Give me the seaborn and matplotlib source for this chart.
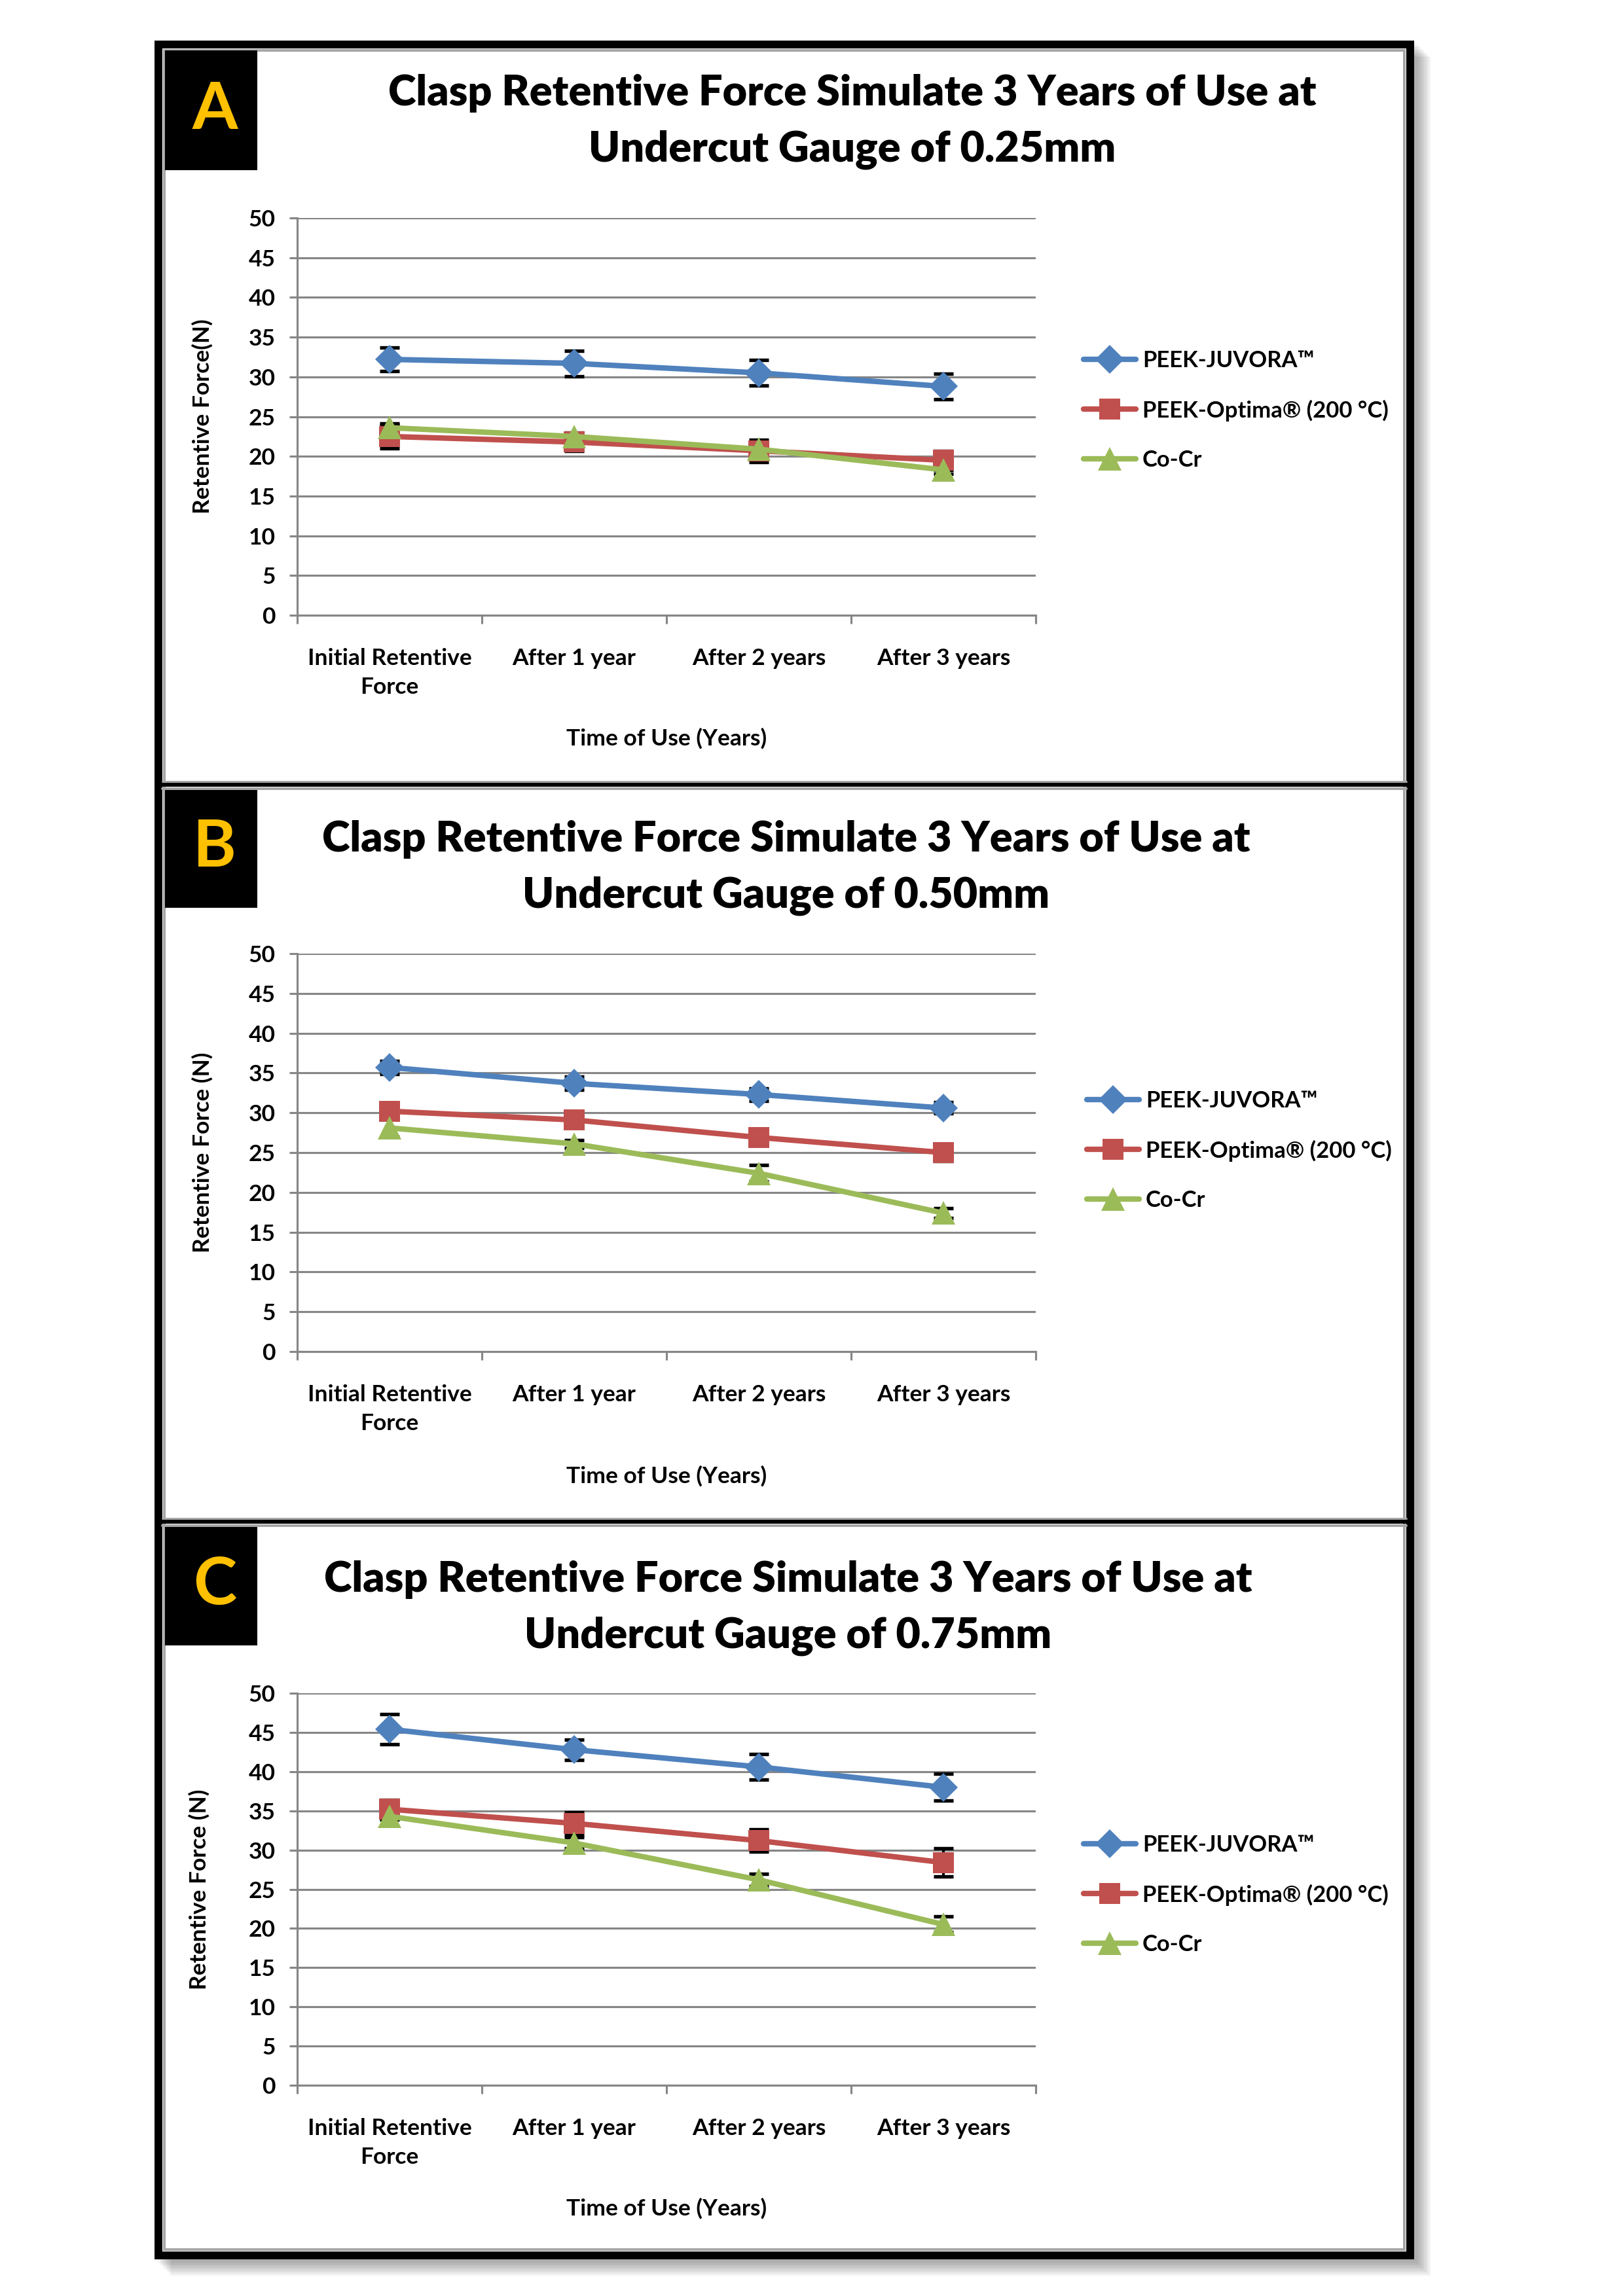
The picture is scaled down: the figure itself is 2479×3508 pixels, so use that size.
import numpy as np
import pandas as pd
import matplotlib
matplotlib.use("Agg")
import matplotlib.pyplot as plt
from matplotlib.patches import Rectangle
from matplotlib.lines import Line2D
from matplotlib.ticker import FixedLocator
import seaborn as sns

# Page size (pixels at 300 dpi)
W, H = 2479, 3508
DPI = 300

# Data
categories = ["Initial Retentive\nForce", "After 1 year", "After 2 years", "After 3 years"]
series_names = ["PEEK-JUVORA™", "PEEK-Optima® (200 °C)", "Co-Cr"]

# Panel A - undercut 0.25 mm
a_juvora = [32.2, 31.7, 30.5, 28.8]
a_juvora_err = [1.5, 1.6, 1.6, 1.6]
a_optima = [22.5, 21.8, 20.7, 19.5]
a_optima_err = [1.5, 1.1, 1.4, 1.2]
a_cocr = [23.6, 22.5, 20.9, 18.3]
a_cocr_err = [0.5, 0.5, 0.5, 0.5]

# Panel B - undercut 0.50 mm
b_juvora = [35.7, 33.7, 32.3, 30.6]
b_juvora_err = [0.8, 0.8, 0.8, 0.7]
b_optima = [30.2, 29.1, 26.9, 25.0]
b_optima_err = [0.9, 0.9, 0.8, 1.1]
b_cocr = [28.1, 26.1, 22.4, 17.4]
b_cocr_err = [1.1, 0.5, 1.0, 0.6]

# Panel C - undercut 0.75 mm
c_juvora = [45.4, 42.8, 40.6, 38.0]
c_juvora_err = [1.9, 1.3, 1.6, 1.7]
c_optima = [35.2, 33.4, 31.2, 28.4]
c_optima_err = [1.2, 1.4, 1.4, 1.8]
c_cocr = [34.3, 30.9, 26.2, 20.5]
c_cocr_err = [0.4, 0.7, 0.8, 1.0]

titles = [
    "Clasp Retentive Force Simulate 3 Years of Use at\nUndercut Gauge of 0.25mm",
    "Clasp Retentive Force Simulate 3 Years of Use at\nUndercut Gauge of 0.50mm",
    "Clasp Retentive Force Simulate 3 Years of Use at\nUndercut Gauge of 0.75mm",
]
ylabels = ["Retentive Force(N)", "Retentive Force (N)", "Retentive Force (N)"]
letters = ["A", "B", "C"]
xlabel = "Time of Use (Years)"

panels = [
    ([a_juvora, a_optima, a_cocr], [a_juvora_err, a_optima_err, a_cocr_err]),
    ([b_juvora, b_optima, b_cocr], [b_juvora_err, b_optima_err, b_cocr_err]),
    ([c_juvora, c_optima, c_cocr], [c_juvora_err, c_optima_err, c_cocr_err]),
]

# Styling
colors = {"PEEK-JUVORA™": "#4F81BD", "PEEK-Optima® (200 °C)": "#C0504D", "Co-Cr": "#9BBB59"}
markers = {"PEEK-JUVORA™": "D", "PEEK-Optima® (200 °C)": "s", "Co-Cr": "^"}
msizes = {"PEEK-JUVORA™": 7.5, "PEEK-Optima® (200 °C)": 7.5, "Co-Cr": 8.5}
grid_gray = "#868686"

# Layout (pixel positions on the page)
plot_left, plot_right = 454, 1582
plot_top = [333, 1457, 2587]
plot_bottom = [940, 2065, 3186]
title_xy = [(1302, 186), (1201, 1326), (1204, 2457)]
box_y = [(77, 260), (1205, 1387), (2331, 2514)]
legend_xy = [(1655, 627), (1660, 1758), (1655, 2895)]
ylabel_x = [309, 309, 304]
xlabel_y = [1128, 2255, 3374]

sns.set_theme(style="white")
plt.rcParams["font.family"] = ["Lato", "DejaVu Sans"]
plt.rcParams["font.weight"] = "bold"
plt.rcParams["axes.labelweight"] = "bold"
plt.rcParams["text.color"] = "black"
plt.rcParams["axes.labelcolor"] = "black"
plt.rcParams["xtick.labelcolor"] = "black"
plt.rcParams["ytick.labelcolor"] = "black"

fig = plt.figure(figsize=(W / DPI, H / DPI), dpi=DPI)
fig.patch.set_facecolor("white")


def fx(px):
    return px / W


def fy(py):
    return 1 - py / H


# Background frame in pixel coordinates
bg = fig.add_axes([0, 0, 1, 1], zorder=0)
bg.set_xlim(0, W)
bg.set_ylim(H, 0)
bg.axis("off")

fl, ft, fr, fb = 236, 62, 2160, 3452
for k in range(9):
    off = 5 + k * 2.5
    bg.add_patch(Rectangle((fl + off, ft + off), fr - fl, fb - ft,
                           facecolor="black", alpha=0.04, lw=0))
bg.add_patch(Rectangle((fl + 6, ft + 6), fr - fl - 12, fb - ft - 12,
                       facecolor="white", edgecolor="black", lw=12 * 72 / DPI))
bg.add_patch(Rectangle((fl + 15, ft + 15), fr - fl - 30, fb - ft - 30,
                       facecolor="none", edgecolor="#A6A6A6", lw=4 * 72 / DPI))
for sep in [1199, 2325]:
    bg.plot([fl + 12, fr - 12], [sep - 5, sep - 5], color="#A6A6A6", lw=3 * 72 / DPI)
    bg.plot([fl + 12, fr - 12], [sep + 6, sep + 6], color="#A6A6A6", lw=4 * 72 / DPI)
    bg.plot([fl + 12, fr - 12], [sep, sep], color="black", lw=6 * 72 / DPI)
for (y0, y1), letter in zip(box_y, letters):
    bg.add_patch(Rectangle((252, y0), 141, y1 - y0, facecolor="black", lw=0))
    bg.text(328, (y0 + y1) / 2, letter, color="#FFC000", fontsize=24,
            fontweight="bold", ha="center", va="center")

for i, (vals, errs) in enumerate(panels):
    ax = fig.add_axes([fx(plot_left), fy(plot_bottom[i]),
                       fx(plot_right) - fx(plot_left),
                       (plot_bottom[i] - plot_top[i]) / H], zorder=2)
    ax.set_facecolor("none")

    x = np.arange(len(categories))
    df = pd.DataFrame({
        "x": np.tile(x, len(series_names)),
        "force": np.concatenate(vals),
        "series": np.repeat(series_names, len(categories)),
    })
    sns.lineplot(data=df, x="x", y="force", hue="series", style="series",
                 palette=colors, markers=markers, dashes=False, lw=2.0,
                 legend=False, ax=ax, zorder=3)
    for line, name in zip(ax.lines, series_names):
        line.set_markersize(msizes[name])
        line.set_markeredgecolor(colors[name])
        line.set_markerfacecolor(colors[name])
        line.set_markeredgewidth(0)
    for v, e in zip(vals, errs):
        ax.errorbar(x, v, yerr=e, fmt="none", ecolor="black", elinewidth=1.0,
                    capsize=3.5, capthick=1.3, zorder=2.5)

    ax.set_xlim(-0.5, len(categories) - 0.5)
    ax.set_ylim(0, 50)
    ax.set_yticks(np.arange(0, 51, 5))
    ax.yaxis.grid(True, color=grid_gray, lw=0.75)
    ax.set_axisbelow(True)
    ax.set_xticks(x)
    ax.set_xticklabels(categories, fontsize=8.5, fontweight="bold", linespacing=1.45)
    ax.xaxis.set_minor_locator(FixedLocator(np.arange(-0.5, len(categories), 1.0)))
    ax.tick_params(axis="x", which="major", length=0, pad=12)
    ax.tick_params(axis="x", which="minor", length=3, width=0.75, color=grid_gray,
                   direction="out", bottom=True)
    ax.tick_params(axis="y", length=3, width=0.75, color=grid_gray, direction="out",
                   left=True, pad=5, labelsize=8.5)
    for lab in ax.get_yticklabels():
        lab.set_fontweight("bold")
    for side in ["top", "right"]:
        ax.spines[side].set_visible(False)
    for side in ["left", "bottom"]:
        ax.spines[side].set_color(grid_gray)
        ax.spines[side].set_linewidth(0.75)

    ax.set_xlabel(xlabel, fontsize=8.5, fontweight="bold", va="center")
    ax.xaxis.set_label_coords(0.5, -(xlabel_y[i] - plot_bottom[i]) / (plot_bottom[i] - plot_top[i]))
    ax.set_ylabel(ylabels[i], fontsize=8.5, fontweight="bold", va="center")
    ax.yaxis.set_label_coords((ylabel_x[i] - plot_left) / (plot_right - plot_left), 0.5)

    handles = [Line2D([], [], color=colors[n], lw=2.0, marker=markers[n],
                      markersize=msizes[n], markeredgewidth=0) for n in series_names]
    lx, ly = legend_xy[i]
    leg = ax.legend(handles, series_names, loc="center left",
                    bbox_to_anchor=(fx(lx), fy(ly)), bbox_transform=fig.transFigure,
                    frameon=False, fontsize=8.3, handlelength=2.3, handletextpad=0.3,
                    labelspacing=1.25, borderpad=0, borderaxespad=0)
    for t in leg.get_texts():
        t.set_fontweight("bold")
        t.set_color("black")

    tx, ty = title_xy[i]
    fig.text(fx(tx), fy(ty), titles[i], ha="center", va="center", fontsize=15.5,
             fontweight="heavy", linespacing=1.55, color="black")

fig.savefig("out.png", dpi=DPI)
